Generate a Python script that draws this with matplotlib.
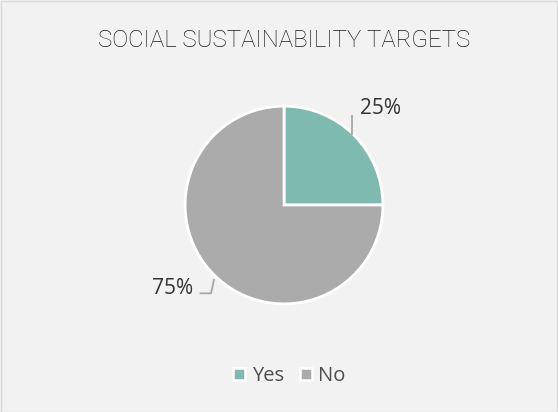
import matplotlib
matplotlib.use("Agg")
import matplotlib.pyplot as plt
from matplotlib.patches import Rectangle
from matplotlib.lines import Line2D

categories = ["Yes", "No"]
values = [25, 75]
labels = ["25%", "75%"]
colors = ["#7ebab0", "#ababab"]
title = "SOCIAL SUSTAINABILITY TARGETS"

W, H = 558, 412
fig = plt.figure(figsize=(W/100, H/100), dpi=100, facecolor="#f2f2f2")
fig.patches.append(Rectangle((0.5/W, 0.5/H), 1-1.5/W, 1-1.5/H, transform=fig.transFigure,
                             fill=False, edgecolor="#d9d9d9", linewidth=1))

cx, cy = 284, 205
size = 240
ax = fig.add_axes([(cx-size/2)/W, (H-cy-size/2)/H, size/W, size/H])
ax.set_xlim(-1.2, 1.2); ax.set_ylim(-1.2, 1.2)
ax.set_aspect("equal"); ax.axis("off")
wedges, _ = ax.pie(values, colors=colors, startangle=90, counterclock=False, radius=1.03,
                   wedgeprops=dict(edgecolor="white", linewidth=2))

tc = "#333333"
ax.plot([0.71, 0.71], [0.93, 0.74], color="#a6a6a6", lw=1.3, clip_on=False)
ax.text(1.01, 1.0, labels[0], ha="center", va="center", fontsize=15, color=tc,
        family="Open Sans", clip_on=False)
ax.plot([-0.87, -0.76, -0.73], [-0.92, -0.92, -0.78], color="#a6a6a6", lw=1.3, clip_on=False)
ax.text(-1.16, -0.87, labels[1], ha="center", va="center", fontsize=15, color=tc,
        family="Open Sans", clip_on=False)

fig.text(0.51, 1 - 40/H, title, ha="center", va="center", fontsize=17.3, color="#1a1a1a",
         family="Roboto", fontweight="light")

handles = [Line2D([], [], marker="s", linestyle="none", markersize=9, markerfacecolor=c,
                  markeredgecolor="white", markeredgewidth=1.8) for c in colors]
fig.legend(handles, categories, loc="center", bbox_to_anchor=(0.515, 1 - 376/H), ncol=2,
           frameon=False, handletextpad=0.1, columnspacing=0.6, handlelength=1.0,
           prop=dict(family="Open Sans", size=14.5), labelcolor="#4d4d4d")

fig.savefig("out.png", dpi=100, facecolor=fig.get_facecolor())
